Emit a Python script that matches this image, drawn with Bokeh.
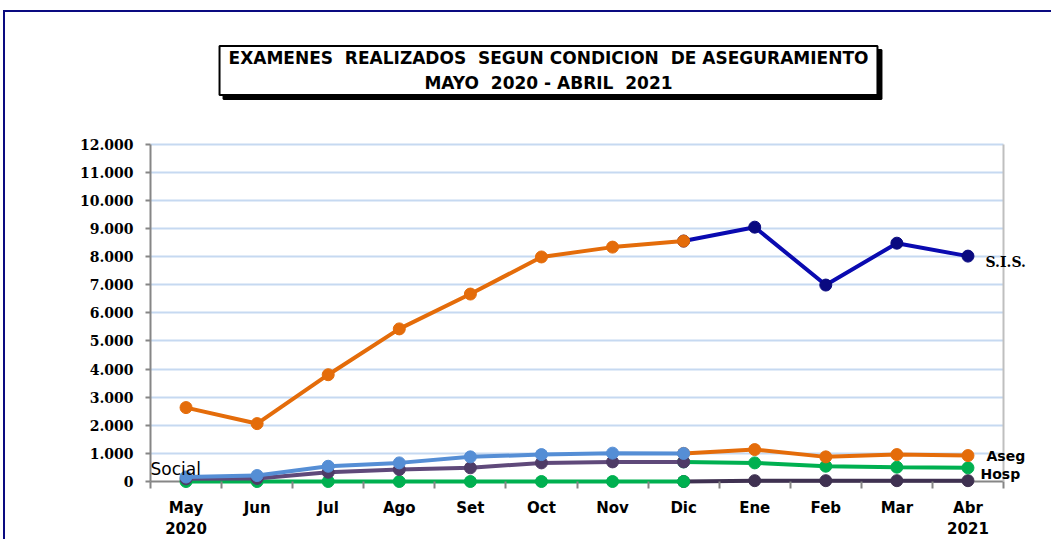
from bokeh.plotting import figure
from bokeh.models import Range1d, FixedTicker, Label, LinearAxis, Grid
from bokeh.embed import file_html
from bokeh.resources import INLINE

# ---------------- data ----------------
months = ["May\n2020", "Jun", "Jul", "Ago", "Set", "Oct", "Nov", "Dic",
          "Ene", "Feb", "Mar", "Abr\n2021"]
sis = [2630, 2060, 3800, 5430, 6670, 7990, 8340, 8555, 9050, 6990, 8480, 8020]
aseg = [160, 213, 543, 663, 877, 958, 1010, 1000, 1136, 877, 958, 923]
hosp = [95, 110, 330, 426, 486, 663, 698, 698, 663, 545, 510, 486]
social = [0, 0, 0, 0, 0, 0, 0, 0, 30, 30, 30, 30]
y_ticks = [0, 1000, 2000, 3000, 4000, 5000, 6000, 7000, 8000, 9000, 10000, 11000, 12000]
y_tick_labels = ["0", "1.000", "2.000", "3.000", "4.000", "5.000", "6.000",
                 "7.000", "8.000", "9.000", "10.000", "11.000", "12.000"]
split = 7  # Dic: colour change point

# ---------------- layout constants (page px) ----------------
OX, OY = 5, 12          # content origin on the page (after margin + border)
W, H = 1048, 529
F_LEFT, F_RIGHT, F_TOP, F_BOTTOM = 150, 1053, 30, 489
PX_X = 853 / 12                # px per category
PX_Y = 338 / 12000             # px per unit
Y0 = 482                       # page y of value 0

x_end = (F_RIGHT - F_LEFT) / PX_X
y_start = -(F_BOTTOM - Y0) / PX_Y
y_end = (Y0 - F_TOP) / PX_Y

p = figure(width=W, height=H, output_backend="svg", toolbar_location=None,
           x_range=Range1d(0, x_end), y_range=Range1d(y_start, y_end),
           min_border_left=F_LEFT - OX, min_border_right=0,
           min_border_top=F_TOP - OY, min_border_bottom=OY + H - F_BOTTOM)
p.styles = {"margin-left": "3px", "margin-top": "10px",
            "border-top": "2px solid #0A0A80", "border-left": "2px solid #0A0A80"}
p.outline_line_color = None
p.background_fill_color = "white"
p.border_fill_color = "white"


def px2x(px):
    return (px - F_LEFT) / PX_X


def px2y(py):
    return (Y0 - py) / PX_Y


xs = [i + 0.5 for i in range(len(months))]

# x axis at the bottom of the frame (just below value 0)
p.xaxis.bounds = (0, 12)
p.xaxis.ticker = FixedTicker(ticks=xs, minor_ticks=list(range(13)))
p.xaxis.major_label_overrides = {x: m for x, m in zip(xs, months)}
p.xaxis.axis_line_color = None
p.xaxis.major_tick_line_color = None
p.xaxis.major_tick_out = 0
p.xaxis.major_tick_in = 0
p.xaxis.minor_tick_line_color = "#868686"
p.xaxis.minor_tick_line_width = 2
p.xaxis.minor_tick_in = 7
p.xaxis.minor_tick_out = 0
p.xaxis.major_label_standoff = 10
p.xaxis.major_label_text_font = "DejaVu Sans"
p.xaxis.major_label_text_font_style = "bold"
p.xaxis.major_label_text_font_size = "15px"
p.xaxis.major_label_text_color = "black"

p.yaxis.ticker = FixedTicker(ticks=y_ticks, minor_ticks=[])
p.yaxis.major_label_overrides = {t: l for t, l in zip(y_ticks, y_tick_labels)}
p.yaxis.bounds = (0, 12000)
p.yaxis.axis_line_color = "#868686"
p.yaxis.axis_line_width = 2
p.yaxis.major_tick_line_color = "#868686"
p.yaxis.major_tick_line_width = 2
p.yaxis.major_tick_out = 5
p.yaxis.major_tick_in = 0
p.yaxis.minor_tick_line_color = None
p.yaxis.major_label_standoff = 12
p.yaxis.major_label_text_font = "DejaVu Serif"
p.yaxis.major_label_text_font_style = "bold"
p.yaxis.major_label_text_font_size = "14px"
p.yaxis.major_label_text_color = "black"

# right border of the plot area as an axis line at x = 12
rax = LinearAxis(fixed_location=12, bounds=(0, 12000), ticker=FixedTicker(ticks=[]),
                 axis_line_color="#BFBFBF", axis_line_width=2,
                 major_tick_line_color=None, minor_tick_line_color=None,
                 major_label_text_font_size="0px", major_label_standoff=0)
p.add_layout(rax, "right")

p.xgrid.grid_line_color = None
p.ygrid.ticker = FixedTicker(ticks=y_ticks[1:])
p.ygrid.grid_line_color = "#C6D9F1"
p.ygrid.grid_line_width = 2
p.ygrid.cross_bounds = (0, 12)
# base line at value 0
p.add_layout(Grid(dimension=1, ticker=FixedTicker(ticks=[0]), cross_bounds=(0, 12),
                  grid_line_color="#868686", grid_line_width=2))

# ---------------- series ----------------
series = [
    (social, "#00B050", "#00B050", "#3F3151", "#3F3151"),
    (hosp, "#5F497A", "#4E3B66", "#00B050", "#00B050"),
    (aseg, "#558ED5", "#558ED5", "#E46C0A", "#E46C0A"),
    (sis, "#E46C0A", "#E46C0A", "#0A0AB0", "#0A0A80"),
]
for vals, c1, m1, c2, m2 in series:
    sx = xs[split:]
    sy = vals[split:]
    p.line(sx, sy, line_color=c2, line_width=4)
    p.scatter(sx, sy, marker="circle", size=12, fill_color=m2, line_color=m2)
for vals, c1, m1, c2, m2 in series:
    fx = xs[:split + 1]
    fy = vals[:split + 1]
    p.line(fx, fy, line_color=c1, line_width=4)
    p.scatter(fx, fy, marker="circle", size=12, fill_color=m1, line_color=m1)

# ---------------- labels ----------------
NB = "\u00a0"
title_text = ("EXAMENES" + NB * 2 + "REALIZADOS" + NB * 2 + "SEGUN CONDICION" + NB * 2
              + "DE ASEGURAMIENTO\nMAYO" + NB * 2 + "2020" + NB + "-" + NB
              + "ABRIL" + NB * 2 + "2021")
common = dict(x=px2x(548), y=px2y(70), text=title_text, text_align="center",
              text_baseline="middle", text_font="DejaVu Sans", text_font_style="bold",
              text_font_size="17px", text_line_height=1.25, padding=(9, 2))
p.add_layout(Label(**common, text_color="black", background_fill_color="black",
                   border_line_color="black", border_line_width=2,
                   x_offset=4, y_offset=-4))
p.add_layout(Label(**common, text_color="black", background_fill_color="white",
                   border_line_color="black", border_line_width=2))

p.add_layout(Label(x=px2x(985), y=px2y(262), text="S.I.S.", text_baseline="middle",
                   text_font="DejaVu Serif", text_font_style="bold",
                   text_font_size="14px", text_color="black"))
p.add_layout(Label(x=px2x(986), y=px2y(456), text="Aseg", text_baseline="middle",
                   text_font="DejaVu Sans", text_font_style="bold",
                   text_font_size="14px", text_color="black"))
p.add_layout(Label(x=px2x(980), y=px2y(474), text="Hosp", text_baseline="middle",
                   text_font="DejaVu Sans", text_font_style="bold",
                   text_font_size="14px", text_color="black"))
p.add_layout(Label(x=px2x(150), y=px2y(469), text="Social", text_baseline="middle",
                   text_font="DejaVu Sans", text_font_size="17px", text_color="black"))

open("out.html", "w").write(file_html(p, INLINE))
